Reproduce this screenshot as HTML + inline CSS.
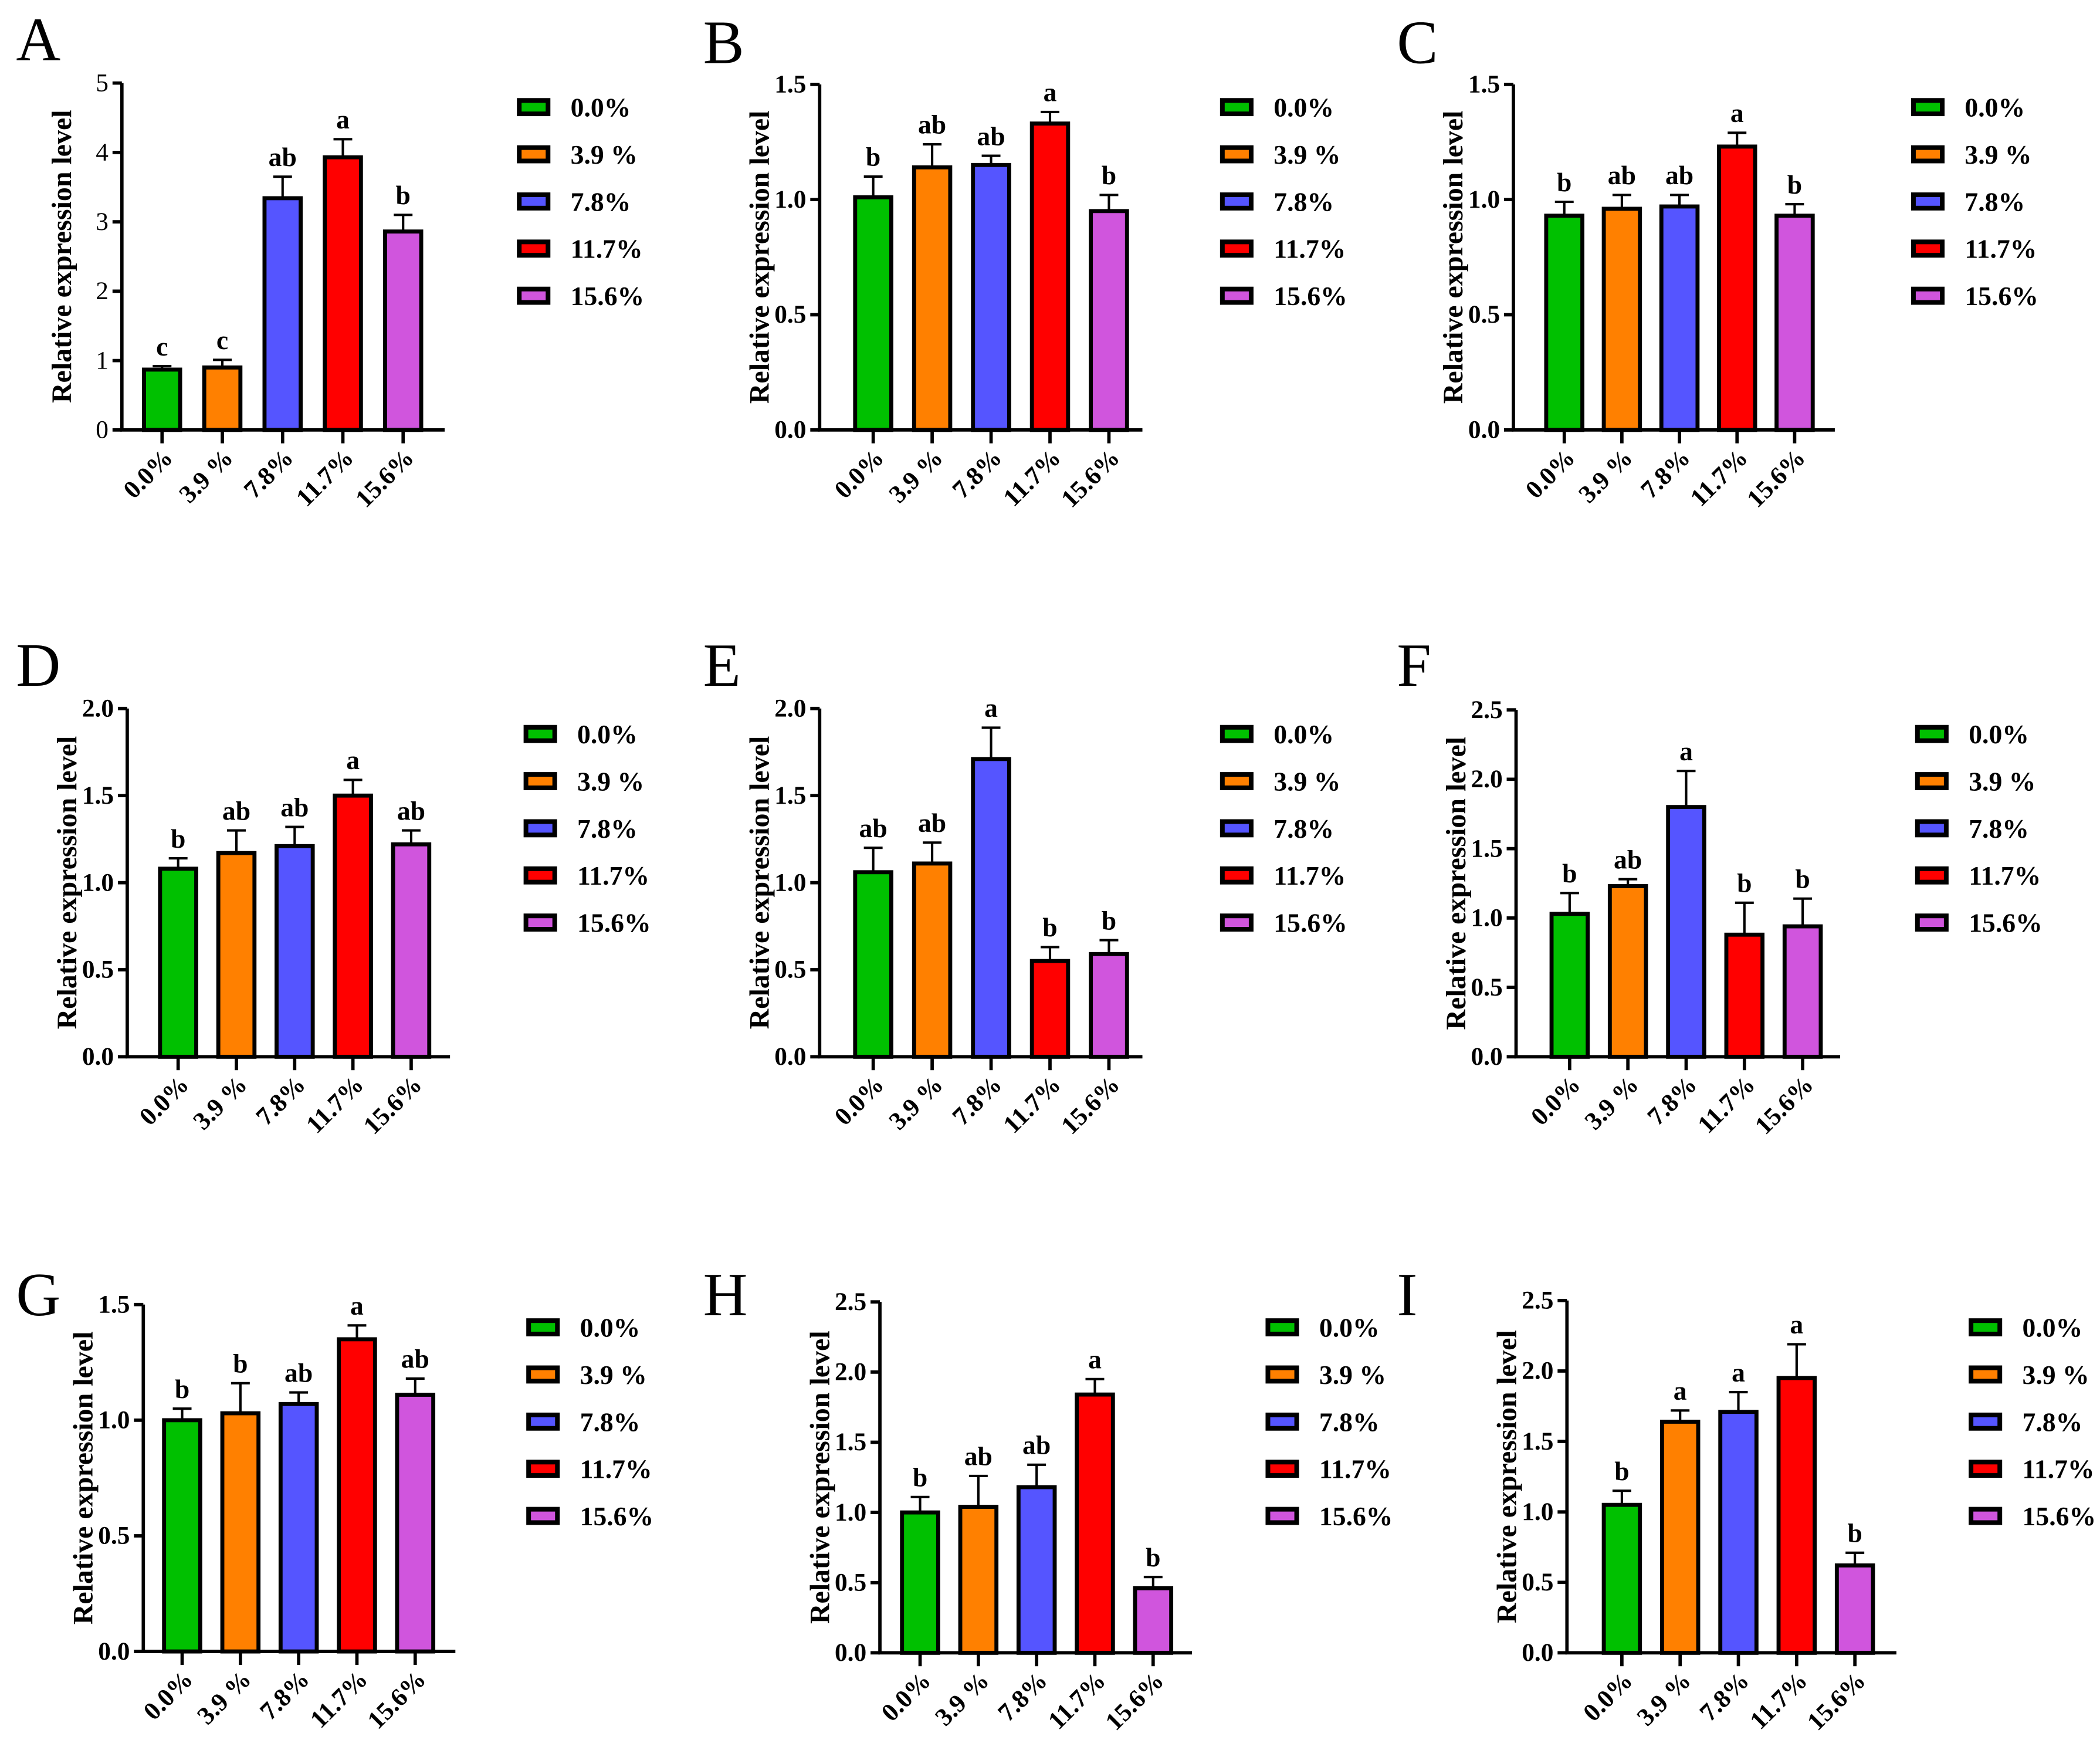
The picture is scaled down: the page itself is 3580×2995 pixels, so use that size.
<!DOCTYPE html>
<html><head><meta charset="utf-8"><style>
html,body{margin:0;padding:0;background:#fff;}
svg text{font-family:"Liberation Serif","Times New Roman",serif;}
</style></head><body>
<svg id="fig" font-family="Liberation Serif, serif" width="3580" height="2990" viewBox="0 0 1568 1309.6" xmlns="http://www.w3.org/2000/svg"></svg>
<script>
const categories = ["0.0%","3.9 %","7.8%","11.7%","15.6%"];
const colors = ["#00c000","#ff8000","#5555ff","#ff0000","#d055dd"];
const panelNames = ["A","B","C","D","E","F","G","H","I"];
const yMaxes = [5,1.5,1.5,2.0,2.0,2.5,1.5,2.5,2.5];
const ySteps = [1,0.5,0.5,0.5,0.5,0.5,0.5,0.5,0.5];
const valuesA = [0.87,0.90,3.34,3.93,2.86];
const errorsA = [0.05,0.11,0.31,0.26,0.24];
const lettersA = ["c","c","ab","a","b"];
const valuesB = [1.01,1.14,1.15,1.33,0.95];
const errorsB = [0.09,0.10,0.04,0.05,0.07];
const lettersB = ["b","ab","ab","a","b"];
const valuesC = [0.93,0.96,0.97,1.23,0.93];
const errorsC = [0.06,0.06,0.05,0.06,0.05];
const lettersC = ["b","ab","ab","a","b"];
const valuesD = [1.08,1.17,1.21,1.50,1.22];
const errorsD = [0.06,0.13,0.11,0.09,0.08];
const lettersD = ["b","ab","ab","a","ab"];
const valuesE = [1.06,1.11,1.71,0.55,0.59];
const errorsE = [0.14,0.12,0.18,0.08,0.08];
const lettersE = ["ab","ab","a","b","b"];
const valuesF = [1.03,1.23,1.80,0.88,0.94];
const errorsF = [0.15,0.05,0.26,0.23,0.20];
const lettersF = ["b","ab","a","b","b"];
const valuesG = [1.00,1.03,1.07,1.35,1.11];
const errorsG = [0.05,0.13,0.05,0.06,0.07];
const lettersG = ["b","b","ab","a","ab"];
const valuesH = [1.00,1.04,1.18,1.84,0.46];
const errorsH = [0.11,0.22,0.16,0.11,0.08];
const lettersH = ["b","ab","ab","a","b"];
const valuesI = [1.05,1.64,1.71,1.95,0.62];
const errorsI = [0.10,0.08,0.14,0.24,0.09];
const lettersI = ["b","a","a","a","b"];
const allValues = [valuesA,valuesB,valuesC,valuesD,valuesE,valuesF,valuesG,valuesH,valuesI];
const allErrors = [errorsA,errorsB,errorsC,errorsD,errorsE,errorsF,errorsG,errorsH,errorsI];
const allLetters = [lettersA,lettersB,lettersC,lettersD,lettersE,lettersF,lettersG,lettersH,lettersI];

const layouts = [
 {lx:12,ly:45, ax:91, top:62, bot:321, x0:121, dx:45, xe:332, legX:386, legY:80, legD:35.2},
 {lx:525,ly:47, ax:612, top:63, bot:321, x0:652, dx:44, xe:853, legX:911, legY:80, legD:35.2},
 {lx:1043,ly:47, ax:1130, top:63, bot:321, x0:1168, dx:43, xe:1370, legX:1427, legY:80, legD:35.2},
 {lx:12,ly:512, ax:95, top:529, bot:789, x0:133, dx:43.5, xe:336, legX:391, legY:548, legD:35.2},
 {lx:525,ly:512, ax:612, top:529, bot:789, x0:652, dx:44, xe:853, legX:911, legY:548, legD:35.2},
 {lx:1043,ly:512, ax:1132, top:530, bot:789, x0:1172, dx:43.5, xe:1374, legX:1430, legY:548, legD:35.2},
 {lx:12,ly:982, ax:107, top:974, bot:1233, x0:136, dx:43.5, xe:340, legX:393, legY:991, legD:35.2},
 {lx:525,ly:982, ax:657, top:972, bot:1234, x0:687, dx:43.5, xe:890, legX:945, legY:991, legD:35.2},
 {lx:1043,ly:982, ax:1170, top:971, bot:1234, x0:1211, dx:43.5, xe:1416, legX:1470, legY:991, legD:35.2}
];
const FONT='"Liberation Serif", "Times New Roman", serif';
const NS="http://www.w3.org/2000/svg";
const svg=document.getElementById('fig');
function mk(tag,attrs,parent,text){const e=document.createElementNS(NS,tag);for(const k in attrs)e.setAttribute(k,attrs[k]);if(tag==='text'){e.setAttribute('font-family',FONT);e.style.fontFamily=FONT;}if(text!==undefined)e.textContent=text;parent.appendChild(e);return e;}

panelNames.forEach((p,i)=>{
  const L=layouts[i], vals=allValues[i], errs=allErrors[i], lets=allLetters[i];
  const yMax=yMaxes[i], step=ySteps[i];
  const y=v=>L.bot-(v/yMax)*(L.bot-L.top);
  const xc=k=>L.x0+k*L.dx;
  const g=mk('g',{},svg);
  
  
  const lab=mk('text',{x:L.lx,y:L.ly,'font-size':46},g,p);
  
  
  const yt=mk('text',{x:0,y:0,'font-size':21,'font-weight':'bold','text-anchor':'middle',transform:`translate(${L.ax-38},${(L.top+L.bot)/2}) rotate(-90)`},g,'Relative expression level');
  
  
  vals.forEach((v,k)=>{
    const bw=27, cx=xc(k);
    const r=mk('rect',{x:cx-bw/2,y:y(v),width:bw,height:L.bot-y(v),fill:colors[k],stroke:'#000','stroke-width':3},g);
    
    
    const et=y(v+errs[k]);
    const eb=mk('path',{d:`M${cx},${y(v)} V${et} M${cx-7},${et} H${cx+7}`,stroke:'#000','stroke-width':1.8,fill:'none'},g);
    
    
    const sl=mk('text',{x:cx,y:et-8,'font-size':20,'font-weight':'bold','text-anchor':'middle'},g,lets[k]);
    
    
    const tk=mk('line',{x1:cx,y1:L.bot,x2:cx,y2:L.bot+10,stroke:'#000','stroke-width':2.5},g);
    
    
    const xl=mk('text',{x:0,y:0,'font-size':19,'font-weight':'bold','text-anchor':'end',transform:`translate(${cx+9},${L.bot+22}) rotate(-45)`},g,categories[k]);
    
    
  });
  const ax=mk('path',{d:`M${L.ax},${L.top} V${L.bot} H${L.xe}`,stroke:'#000','stroke-width':2.5,fill:'none'},g);
  
  
  const n=Math.round(yMax/step);
  for(let t=0;t<=n;t++){
    const v=t*step, yy=y(v);
    const tl=mk('line',{x1:L.ax-7,y1:yy,x2:L.ax,y2:yy,stroke:'#000','stroke-width':2.5},g);
    
    
    const tx=mk('text',{x:L.ax-10,y:yy+6,'font-size':19,'font-weight':i===0?'normal':'bold','text-anchor':'end'},g,step<1?v.toFixed(1):String(v));
    
    
  }
  categories.forEach((c,k)=>{
    const ly=L.legY+k*L.legD;
    const lb=mk('rect',{x:L.legX+1.7,y:ly-5,width:21.5,height:10,fill:colors[k],stroke:'#000','stroke-width':3.5},g);
    
    
    const lt=mk('text',{x:L.legX+40,y:ly+7,'font-size':20,'font-weight':'bold'},g,c);
    
    
  });
});
</script>
</body></html>
